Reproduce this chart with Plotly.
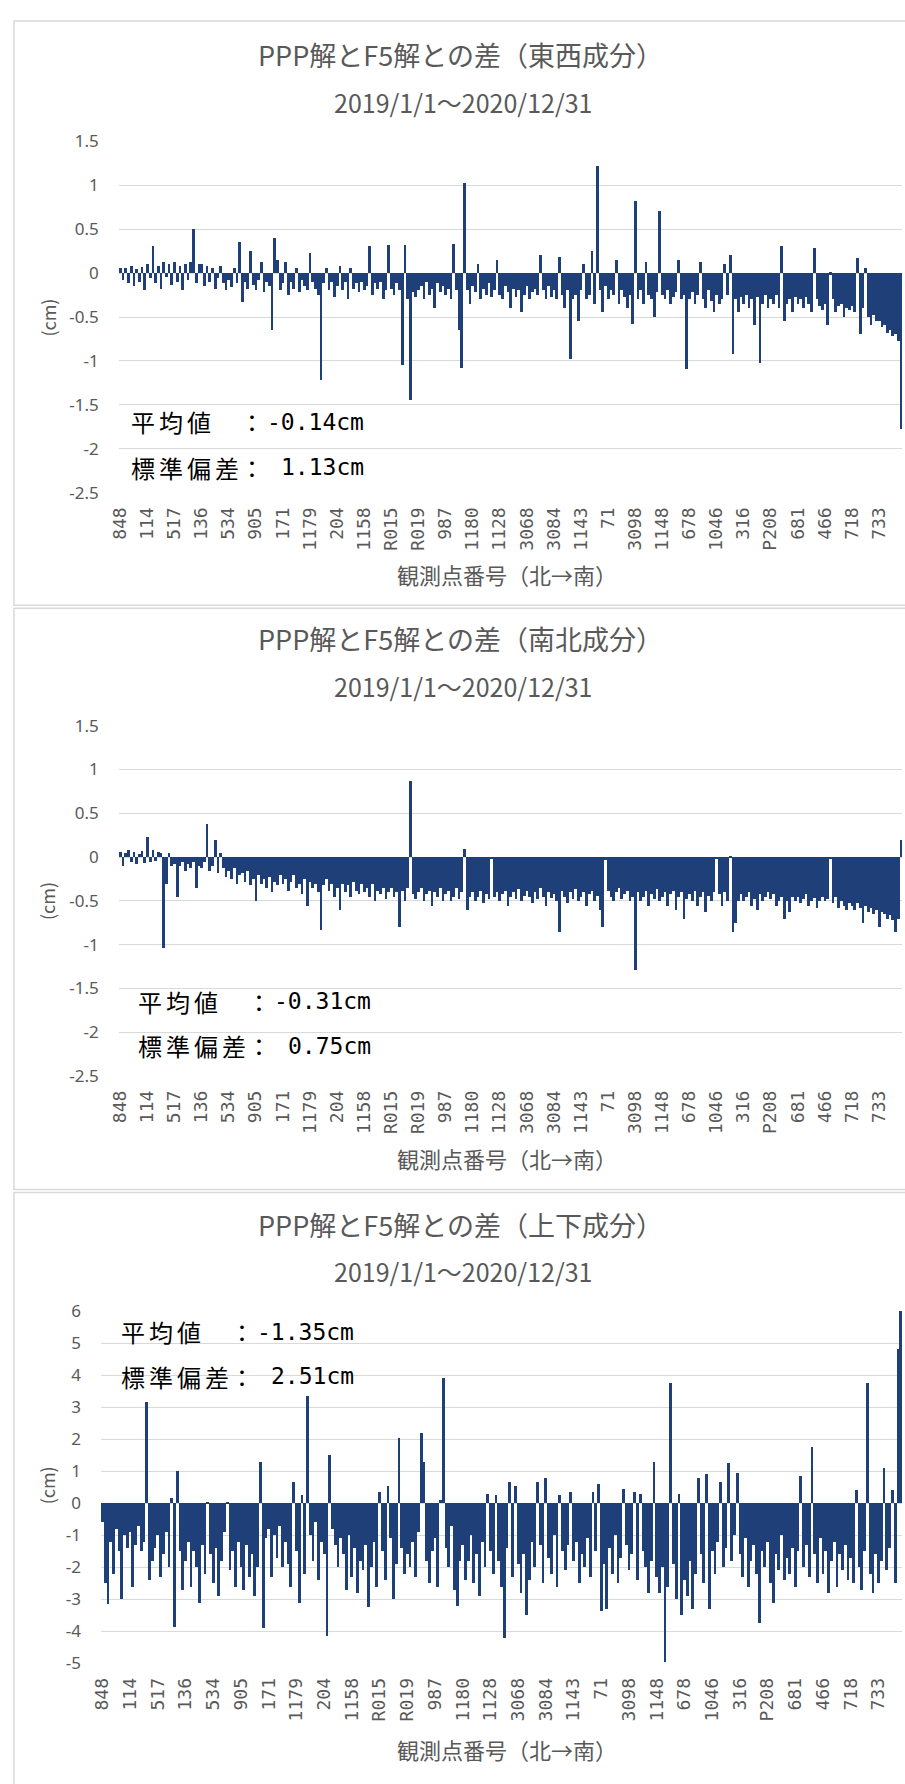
import plotly.graph_objects as go

W, H = 905, 1784

# Station labels shown along the horizontal axis (north -> south)
station_ticks = ["848", "114", "517", "136", "534", "905", "171", "1179", "204", "1158",
                 "R015", "R019", "987", "1180", "1128", "3068", "3084", "1143", "71", "3098",
                 "1148", "678", "1046", "316", "P208", "681", "466", "718", "733"]
STEP = 10  # stations between two labelled ticks

# PPP minus F5 difference, east-west component (cm)
ew_diff = [
    0.06, -0.08, 0.05, -0.12, 0.08, -0.15, 0.04, -0.10, 0.07, -0.20,
    0.10, -0.06, 0.30, -0.12, 0.08, -0.18, 0.12, -0.05, 0.10, -0.14,
    0.12, -0.10, 0.08, -0.20, 0.10, -0.08, 0.12, 0.50, -0.12, 0.10,
    0.10, -0.15, 0.08, -0.10, 0.05, -0.18, -0.06, 0.08, -0.12, -0.20,
    -0.08, -0.16, 0.05, -0.12, 0.35, -0.33, -0.10, -0.18, 0.25, -0.14,
    -0.20, -0.08, 0.12, -0.22, -0.10, -0.15, -0.65, 0.40, 0.15, -0.20,
    -0.12, 0.12, -0.25, -0.10, -0.18, 0.05, -0.22, -0.08, -0.15, -0.20,
    0.23, -0.10, -0.18, -0.25, -1.22, -0.12, 0.05, -0.20, -0.10, -0.28,
    -0.15, 0.08, -0.20, -0.10, -0.30, 0.06, -0.18, -0.12, -0.22, -0.10,
    -0.20, -0.15, 0.30, -0.25, -0.12, -0.18, -0.10, -0.30, -0.20, 0.32,
    -0.18, -0.25, -0.12, -0.20, -1.05, 0.32, -0.30, -1.45, -0.22, -0.28,
    -0.20, -0.15, -0.30, -0.10, -0.25, -0.18, -0.40, -0.12, -0.22, -0.15,
    -0.25, -0.18, -0.30, 0.33, -0.20, -0.65, -1.08, 1.02, -0.20, -0.35,
    -0.15, -0.22, 0.10, -0.30, -0.18, -0.25, -0.12, -0.28, -0.20, 0.15,
    -0.25, -0.30, -0.15, -0.22, -0.40, -0.18, -0.28, -0.20, -0.45, -0.25,
    -0.15, -0.30, -0.22, -0.18, -0.25, 0.20, -0.20, -0.30, -0.15, -0.28,
    -0.20, -0.30, 0.18, -0.25, -0.40, -0.20, -0.98, -0.30, -0.25, -0.55,
    -0.20, 0.10, -0.30, -0.25, 0.25, -0.35, 1.22, -0.20, -0.45, -0.15,
    -0.30, -0.20, -0.25, 0.15, -0.35, -0.20, -0.28, -0.40, -0.25, -0.58,
    0.82, -0.30, -0.20, -0.35, 0.12, -0.25, -0.30, -0.50, -0.22, 0.70,
    -0.25, -0.30, -0.20, -0.35, -0.28, -0.22, 0.15, -0.30, -0.25, -1.10,
    -0.30, -0.22, -0.35, -0.25, 0.12, -0.30, -0.40, -0.20, -0.32, -0.45,
    -0.25, -0.35, -0.30, 0.10, -0.25, 0.20, -0.92, -0.30, -0.45, -0.28,
    -0.35, -0.25, -0.40, -0.30, -0.60, -0.28, -1.03, -0.35, -0.25, -0.40,
    -0.30, -0.35, -0.25, -0.40, 0.30, -0.55, -0.35, -0.30, -0.45, -0.28,
    -0.35, -0.30, -0.40, -0.28, -0.35, -0.45, 0.28, -0.30, -0.38, -0.42,
    -0.35, -0.60, -0.02, -0.30, -0.45, -0.38, -0.35, -0.50, -0.40, -0.42,
    -0.38, -0.45, 0.17, -0.70, -0.40, 0.05, -0.50, -0.60, -0.48, -0.55,
    -0.55, -0.62, -0.60, -0.68, -0.65, -0.72, -0.70, -0.78, -1.78,
]

# North-south component (cm)
ns_diff = [
    0.06, -0.10, 0.05, 0.08, -0.05, 0.06, -0.08, 0.04, 0.07, -0.06,
    0.23, -0.05, 0.08, -0.04, 0.06, 0.05, -1.03, -0.30, 0.05, -0.10,
    -0.08, -0.45, -0.10, -0.05, -0.15, -0.08, -0.12, -0.05, -0.35, -0.10,
    -0.12, -0.05, 0.38, -0.15, -0.10, 0.20, -0.18, 0.05, -0.12, -0.22,
    -0.15, -0.25, -0.12, -0.30, -0.20, -0.18, -0.28, -0.15, -0.32, -0.25,
    -0.50, -0.20, -0.30, -0.25, -0.35, -0.22, -0.40, -0.28, -0.32, -0.20,
    -0.30, -0.25, -0.38, -0.28, -0.20, -0.35, -0.30, -0.42, -0.25, -0.55,
    -0.28, -0.35, -0.30, -0.40, -0.83, -0.32, -0.25, -0.38, -0.30, -0.45,
    -0.35, -0.60, -0.30, -0.40, -0.32, -0.45, -0.28, -0.38, -0.42, -0.30,
    -0.40, -0.35, -0.45, -0.30, -0.50, -0.38, -0.42, -0.35, -0.48, -0.40,
    -0.35, -0.45, -0.40, -0.80, -0.38, -0.50, -0.35, 0.87, -0.42, -0.48,
    -0.40, -0.35, -0.50, -0.42, -0.38, -0.55, -0.40, -0.45, -0.35, -0.50,
    -0.42, -0.38, -0.50, -0.45, -0.35, -0.48, -0.40, 0.10, -0.60, -0.45,
    -0.40, -0.50, -0.45, -0.38, -0.52, -0.42, -0.48, -0.02, -0.45, -0.40,
    -0.50, -0.42, -0.38, -0.55, -0.45, -0.40, -0.48, -0.36, -0.50, -0.44,
    -0.38, -0.45, -0.52, -0.40, -0.48, -0.35, -0.45, -0.55, -0.40, -0.46,
    -0.42, -0.50, -0.85, -0.38, -0.45, -0.52, -0.40, -0.48, -0.36, -0.50,
    -0.45, -0.40, -0.55, -0.42, -0.38, -0.50, -0.44, -0.60, -0.80, -0.03,
    -0.38, -0.45, -0.50, -0.40, -0.35, -0.48, -0.42, -0.38, -0.50, -0.45,
    -1.28, -0.40, -0.50, -0.45, -0.38, -0.55, -0.42, -0.48, -0.36, -0.50,
    -0.45, -0.40, -0.55, -0.42, -0.38, -0.60, -0.45, -0.40, -0.70, -0.48,
    -0.42, -0.50, -0.38, -0.55, -0.45, -0.40, -0.62, -0.44, -0.50, -0.40,
    -0.02, -0.42, -0.55, -0.40, -0.50, 0.02, -0.85, -0.75, -0.50, -0.42,
    -0.50, -0.45, -0.40, -0.55, -0.48, -0.60, -0.42, -0.50, -0.45, -0.40,
    -0.48, -0.42, -0.55, -0.50, -0.45, -0.70, -0.50, -0.62, -0.45, -0.50,
    -0.45, -0.52, -0.48, -0.42, -0.55, -0.50, -0.46, -0.58, -0.50, -0.45,
    -0.50, -0.48, -0.02, -0.52, -0.45, -0.58, -0.50, -0.55, -0.60, -0.52,
    -0.55, -0.60, -0.52, -0.58, -0.75, -0.55, -0.62, -0.58, -0.65, -0.60,
    -0.80, -0.62, -0.65, -0.70, -0.66, -0.72, -0.85, -0.70, 0.20,
]

# Vertical component (cm)
ud_diff = [
    -0.60, -2.50, -3.15, -1.20, -2.20, -0.80, -1.50, -3.00, -1.00, -1.40,
    -0.90, -2.60, -1.30, -0.70, -1.50, -1.20, 3.15, -2.40, -1.80, -1.40,
    -1.00, -2.30, -1.60, -0.90, -2.00, 0.15, -3.85, 1.00, -1.50, -2.70,
    -1.80, -1.20, -2.60, -1.50, -2.00, -3.10, -1.30, -2.20, 0.05, -1.60,
    -2.50, -1.40, -2.90, -1.80, -0.90, 0.05, -2.10, -1.50, -2.60, -1.20,
    -2.00, -2.70, -1.30, -2.30, -1.60, -2.90, -2.00, 1.30, -3.90, -1.10,
    -0.80, -2.30, -1.00, -1.70, -0.70, -2.00, -1.20, -1.90, -2.60, 0.65,
    -1.50, -3.10, 0.25, -2.20, 3.35, -1.00, -1.80, -0.60, -2.40, -1.20,
    -1.60, -4.15, 1.50, -0.80, -1.30, -2.00, -1.10, -1.60, -2.70, -1.00,
    -2.30, -1.40, -2.80, -1.80, -2.10, -1.30, -3.25, -2.00, -1.20, -2.60,
    0.35, -1.50, -2.40, 0.55, -1.10, -3.00, -1.90, 2.05, -1.40, -2.20,
    -1.60, -2.00, -1.20, -2.30, -0.90, 2.20, 1.30, -1.80, -2.50, -1.50,
    -1.10, -2.60, 0.10, 3.90, -1.40, -2.00, -0.70, -2.70, -3.20, -1.80,
    -1.30, -2.40, -1.80, -1.00, -2.50, -1.60, -2.90, -1.20, -2.00, 0.30,
    -1.50, -2.20, 0.25, -1.80, -2.60, -4.20, -1.40, 0.65, -2.30, 0.55,
    -1.90, -2.80, -1.60, -3.50, -2.40, -1.20, -2.00, 0.65, -1.30, -2.50,
    0.80, -1.70, -2.20, -1.00, -2.60, 0.25, -1.50, -2.10, -1.30, 0.35,
    -1.80, -1.20, -2.50, -1.60, -2.00, -1.10, -2.30, 0.35, -1.50, 0.60,
    -3.35, -1.90, -3.30, -1.40, -2.20, -1.00, -2.50, -1.70, 0.45, -1.30,
    -2.10, -1.60, 0.35, -2.40, 0.30, -1.50, -2.00, -2.80, -1.80, 1.30,
    -2.30, -2.80, -2.00, -4.95, -2.60, 3.75, -1.90, -3.00, 0.30, -3.50,
    -2.40, -2.90, -1.80, -3.30, -2.20, 0.80, -1.60, -2.50, 0.90, -3.30,
    -1.50, -2.20, -1.20, 0.65, -2.00, -1.40, 1.25, -1.80, -1.00, 0.95,
    -1.60, -2.30, -1.10, -2.60, -1.80, -1.30, -2.20, -3.75, -1.50, -2.00,
    -1.20, -2.50, -3.10, -1.60, -2.10, -1.00, -2.40, -1.70, -2.20, -1.40,
    -2.60, -1.50, 0.85, -2.00, -1.30, -2.30, 1.75, -1.60, -2.50, -1.10,
    -2.20, -1.50, -2.80, -1.80, -1.20, -2.60, -1.60, -2.10, -1.30, -2.40,
    -1.70, -2.50, 0.40, -2.00, -2.70, -1.50, 3.75, -2.20, -2.80, -1.60,
    -2.50, -1.80, 1.10, -2.10, -1.40, 0.40, -2.50, 4.80, 6.00,
]

titles = ["PPP解とF5解との差（東西成分）", "PPP解とF5解との差（南北成分）", "PPP解とF5解との差（上下成分）"]
period = "2019/1/1～2020/12/31"
mean_text = ["-0.14cm", "-0.31cm", "-1.35cm"]
std_text = ["1.13cm", "0.75cm", "2.51cm"]
x_title = "観測点番号（北→南）"
y_title = "(cm)"

BAR = "#1F3F78"
GREY = "#595959"
GRID = "#D9D9D9"
JP = "Noto Sans CJK JP"


def px(x):
    return x / W


def py(y):
    return 1 - y / H


def fmt(v):
    return "%g" % v


panels = [
    dict(vals=ew_diff, left=110, top=131, bottom=487, yr=(-2.5, 1.5), dt=0.5,
         box=(9, 601), title_y=43, sub_y=91, cm=(38, 310), stat_x=120, stat_y=(415, 461), xt_y=569),
    dict(vals=ns_diff, left=110, top=723, bottom=1078, yr=(-2.5, 1.5), dt=0.5,
         box=(604, 1193), title_y=635, sub_y=683, cm=(38, 901), stat_x=127, stat_y=(1002, 1047), xt_y=1161),
    dict(vals=ud_diff, left=92, top=1316, bottom=1673, yr=(-5, 6), dt=1,
         box=(1196, 1800), title_y=1228, sub_y=1275, cm=(37, 1493), stat_x=110, stat_y=(1337, 1382), xt_y=1760),
]

fig = go.Figure()
annotations = []
shapes = []

for i, p in enumerate(panels):
    n = i + 1
    sfx = "" if n == 1 else str(n)
    vals = p["vals"]
    npts = len(vals)
    fig.add_trace(go.Bar(
        x=list(range(npts)), y=vals,
        marker=dict(color=BAR, line=dict(width=0)),
        xaxis="x" + sfx, yaxis="y" + sfx, showlegend=False,
    ))

    lo, hi = p["yr"]
    yticks = []
    v = hi
    while v >= lo - 1e-9:
        yticks.append(round(v, 2))
        v -= p["dt"]

    fig.layout["xaxis" + sfx] = dict(
        domain=[px(p["left"]), px(902)], range=[-0.5, npts - 0.5], anchor="y" + sfx,
        tickmode="array", tickvals=list(range(0, npts, STEP)), ticktext=station_ticks,
        tickangle=-90, tickfont=dict(family="DejaVu Sans Mono", size=18, color=GREY),
        showgrid=False, zeroline=False, showline=False, ticks="", ticklabelstandoff=10,
    )
    fig.layout["yaxis" + sfx] = dict(
        domain=[py(p["bottom"]), py(p["top"])], range=[lo, hi], anchor="x" + sfx,
        tickmode="array", tickvals=yticks, ticktext=[fmt(t) for t in yticks],
        tickfont=dict(family="Noto Sans", size=17, color=GREY),
        showgrid=True, gridcolor=GRID, gridwidth=1, zeroline=False, showline=False,
        ticks="", ticklabelstandoff=19,
    )

    # panel frame
    shapes.append(dict(type="rect", xref="paper", yref="paper",
                       x0=px(4), x1=px(912), y0=py(p["box"][1]), y1=py(p["box"][0]),
                       line=dict(color=GRID, width=1.5), fillcolor="rgba(0,0,0,0)", layer="below"))

    # titles
    annotations.append(dict(text=titles[i], x=px(456), y=py(p["title_y"]), xref="paper", yref="paper",
                            showarrow=False, xanchor="center", yanchor="middle",
                            font=dict(family=JP, size=27, color=GREY)))
    annotations.append(dict(text=period, x=px(458), y=py(p["sub_y"]), xref="paper", yref="paper",
                            showarrow=False, xanchor="center", yanchor="middle",
                            font=dict(family=JP, size=25, color=GREY)))
    # axis titles
    annotations.append(dict(text=y_title, x=px(p["cm"][0]), y=py(p["cm"][1]), xref="paper", yref="paper",
                            showarrow=False, xanchor="center", yanchor="middle", textangle=-90,
                            font=dict(family=JP, size=18, color=GREY)))
    annotations.append(dict(text=x_title, x=px(503), y=py(p["xt_y"]), xref="paper", yref="paper",
                            showarrow=False, xanchor="center", yanchor="middle",
                            font=dict(family=JP, size=22, color=GREY)))

    # statistics box
    sx = p["stat_x"]
    y1, y2 = p["stat_y"]
    for label, value, yy in (("平\u2006均\u2006値", mean_text[i], y1), ("標\u2006準\u2006偏\u2006差", std_text[i], y2)):
        annotations.append(dict(text=label, x=px(sx), y=py(yy), xref="paper", yref="paper",
                                showarrow=False, xanchor="left", yanchor="middle",
                                font=dict(family=JP, size=24, color="black")))
        annotations.append(dict(text="：", x=px(sx + 125), y=py(yy), xref="paper", yref="paper",
                                showarrow=False, xanchor="center", yanchor="middle",
                                font=dict(family=JP, size=24, color="black")))
        annotations.append(dict(text=value, x=px(sx + 240), y=py(yy), xref="paper", yref="paper",
                                showarrow=False, xanchor="right", yanchor="middle",
                                font=dict(family="DejaVu Sans Mono", size=23, color="black")))

fig.update_layout(
    width=W, height=H, margin=dict(l=0, r=0, t=0, b=0),
    paper_bgcolor="white", plot_bgcolor="white",
    bargap=0, showlegend=False,
    annotations=annotations, shapes=shapes,
)

fig.write_html("out.html")
